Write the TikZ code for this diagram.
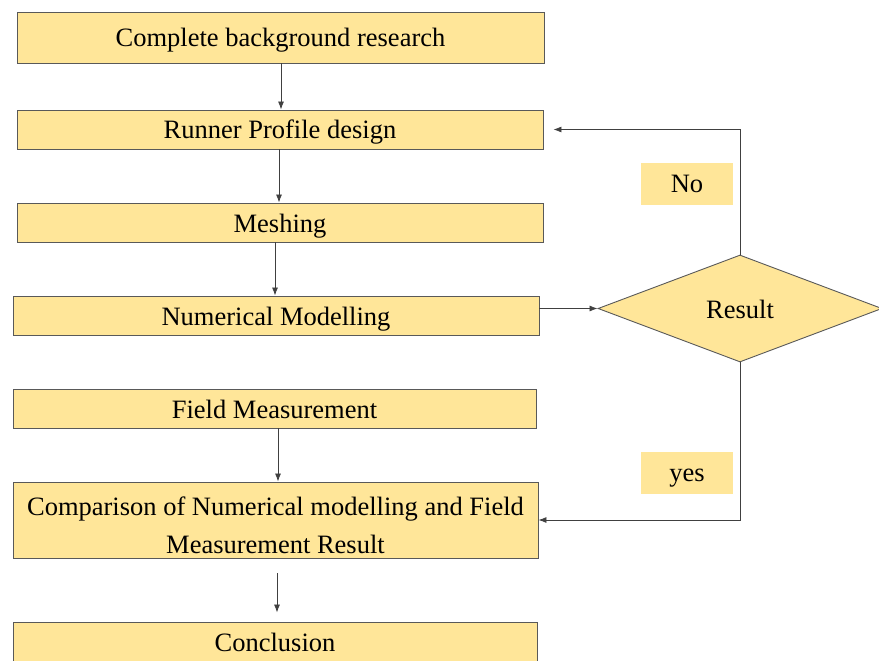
\documentclass[tikz,border=0pt]{standalone}
\usepackage{fontspec}
\setmainfont{Liberation Serif}
\usepackage{xcolor}
\usetikzlibrary{shapes.geometric,arrows.meta}

\definecolor{boxfill}{HTML}{FFE699}
\definecolor{boxline}{HTML}{595959}

\begin{document}
\begin{tikzpicture}[x=1pt,y=-1pt]
\tikzset{
  stepbox/.style={draw=boxline,fill=boxfill,line width=0.9pt,inner sep=0pt,
    minimum width=526pt,minimum height=39pt,align=center,
    text height=21pt,text depth=2pt,
    font=\fontsize{26.5}{38}\selectfont},
  tagbox/.style={fill=boxfill,inner sep=0pt,minimum width=92pt,minimum height=42pt,
    text height=19pt,text depth=2pt,
    font=\fontsize{26.5}{33}\selectfont},
  flow/.style={draw=black!75,line width=0.8pt,-{Latex[length=8pt,width=6pt]}}
}
\useasboundingbox (0,0) rectangle (879,661);

\node (research) [stepbox,minimum width=527pt,minimum height=51pt] at (280.5,37.5) {Complete background research};
\node (profile) [stepbox] at (280,129.5) {Runner Profile design};
\node (meshing) [stepbox] at (280,222.5) {Meshing};
\node (modelling) [stepbox] at (276,315.5) {Numerical Modelling};
\node (field) [stepbox,minimum width=523pt] at (274.5,408.5) {Field Measurement};
\node (comparison) [stepbox,minimum width=525pt,minimum height=76pt,text height=68pt,text depth=2pt] at (275.5,520) {Comparison of Numerical modelling and Field\\Measurement Result};
\node (conclusion) [stepbox,minimum width=524pt] at (275,641.5) {Conclusion};

\node (result) [diamond,draw=boxline,fill=boxfill,line width=0.9pt,inner sep=0pt,
  minimum width=284pt,minimum height=107pt,text height=21pt,text depth=2pt,
  font=\fontsize{26.5}{33}\selectfont] at (740,308.5) {Result};

\node (no) [tagbox] at (687,184) {No};
\node (yes) [tagbox] at (687,472.5) {yes};

% main line
\draw[flow] (research.south -| 281,0) -- (profile.north -| 281,0);
\draw[flow] (profile.south -| 279,0) -- (meshing.north -| 279,0);
\draw[flow] (meshing.south -| 275,0) -- (modelling.north -| 275,0);
\draw[flow] (field.south -| 278,0) -- (comparison.north -| 278,0);
\draw[flow,shorten <=15pt,shorten >=9pt] (comparison.south -| 277,0) -- (conclusion.north -| 277,0);

% decision loop
\draw[flow] (modelling.east |- result.west) -- (result.west);
\draw[flow,shorten >=10pt] (result.north) |- (profile.east);
\draw[flow] (result.south) |- (comparison.east);
\end{tikzpicture}
\end{document}
